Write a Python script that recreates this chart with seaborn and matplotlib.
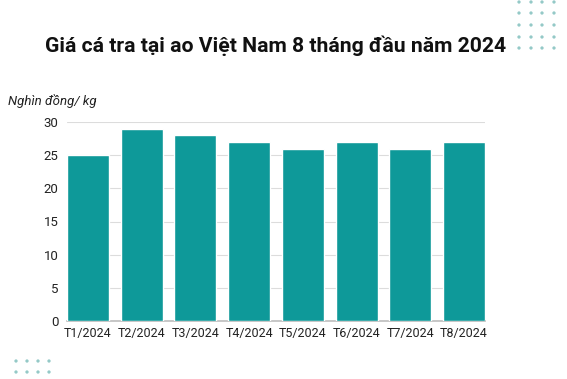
import matplotlib
matplotlib.use("Agg")
import matplotlib.pyplot as plt
import matplotlib.patches as mpatches
import seaborn as sns
import pandas as pd
import numpy as np

months = ["T1/2024", "T2/2024", "T3/2024", "T4/2024", "T5/2024", "T6/2024", "T7/2024", "T8/2024"]
prices = [25, 29, 28, 27, 26, 27, 26, 27]
yticks = [0, 5, 10, 15, 20, 25, 30]

sns.set_theme(style="white")
plt.rcParams['font.family'] = ['Roboto', 'DejaVu Sans']

fig = plt.figure(figsize=(5.67, 3.79), dpi=100)
ax = fig.add_axes([67/567, 1-321/379, (485-67)/567, (321-122)/379])

df = pd.DataFrame({"month": months, "price": prices})
sns.barplot(data=df, x="month", y="price", color="#0e9999", saturation=1, width=0.78, ax=ax, zorder=3)

ax.set_xlim(-0.39, len(months) - 1 + 0.39)
ax.set_ylim(0, 30)
ax.set_yticks(yticks)
ax.set_yticklabels([str(v) for v in yticks])
ax.yaxis.grid(True, color="#dcdcdc", linewidth=0.8, zorder=0)
ax.set_axisbelow(True)
for s in ["top", "right", "left"]:
    ax.spines[s].set_visible(False)
ax.spines["bottom"].set_color("#bdbdbd")
ax.spines["bottom"].set_linewidth(1.2)
ax.tick_params(axis="both", length=0, colors="#222222")
ax.tick_params(axis="y", pad=6, labelsize=9.5)
ax.tick_params(axis="x", pad=4, labelsize=9)
ax.set_xlabel("")
ax.set_ylabel("")

fig.text(276/567, 1-46/379, "Giá cá tra tại ao Việt Nam 8 tháng đầu năm 2024",
         ha="center", va="center", fontsize=15.2, fontweight="bold", color="#111111")
fig.text(8/567, 1-101/379, "Nghìn đồng/ kg", ha="left", va="center",
         fontsize=9.5, fontstyle="italic", color="#222222")

# decorative dots
dot_color = "#94c9c7"
dx = np.array([519, 531, 542, 554]) / 567
dy = 1 - np.array([2, 13, 25, 37, 48]) / 379
for x in dx:
    for y in dy:
        fig.add_artist(mpatches.Ellipse((x, y), 1.9/567, 1.9/379, transform=fig.transFigure, color=dot_color))
bx = np.array([16, 27, 38, 49]) / 567
by = 1 - np.array([361, 372]) / 379
for x in bx:
    for y in by:
        fig.add_artist(mpatches.Ellipse((x, y), 1.9/567, 1.9/379, transform=fig.transFigure, color=dot_color))

fig.savefig("out.png", dpi=100, facecolor="white")
